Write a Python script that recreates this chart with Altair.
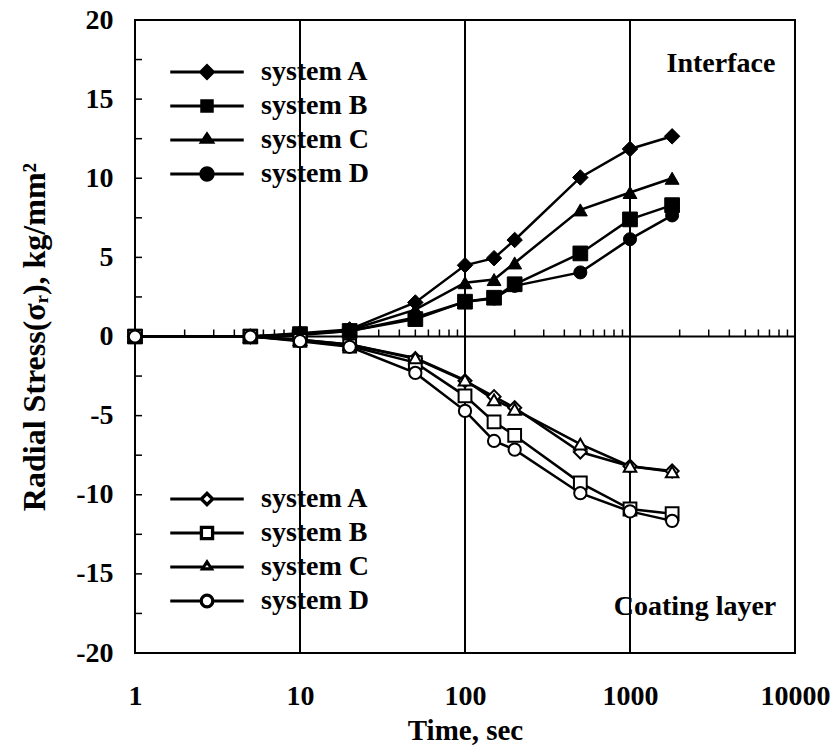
import altair as alt
import pandas as pd

FONT = "Liberation Serif"

times = [1, 5, 10, 20, 50, 100, 150, 200, 500, 1000, 1800]
systems = ["system A", "system B", "system C", "system D"]

interface_A = [0, 0, 0.2, 0.45, 2.15, 4.5, 4.95, 6.1, 10.05, 11.85, 12.65]
interface_B = [0, 0, 0.15, 0.35, 1.1, 2.2, 2.45, 3.3, 5.25, 7.4, 8.3]
interface_C = [0, 0, 0.15, 0.4, 1.7, 3.4, 3.6, 4.65, 8.0, 9.1, 10.0]
interface_D = [0, 0, 0.1, 0.35, 1.2, 2.2, 2.4, 3.2, 4.05, 6.15, 7.65]

coating_A = [0, 0, -0.2, -0.5, -1.4, -2.8, -3.8, -4.5, -7.3, -8.2, -8.5]
coating_B = [0, 0, -0.25, -0.6, -1.65, -3.75, -5.4, -6.25, -9.25, -10.9, -11.2]
coating_C = [0, 0, -0.2, -0.5, -1.35, -2.75, -4.0, -4.6, -6.8, -8.2, -8.55]
coating_D = [0, 0, -0.3, -0.65, -2.3, -4.7, -6.6, -7.15, -9.9, -11.05, -11.65]

x_labels = [1, 10, 100, 1000, 10000]
y_labels = [-20, -15, -10, -5, 0, 5, 10, 15, 20]
grid_x = [10, 100, 1000]
minor_x = [2, 3, 4, 5, 6, 7, 8, 9, 20, 30, 40, 50, 60, 70, 80, 90,
           200, 300, 400, 500, 600, 700, 800, 900,
           2000, 3000, 4000, 5000, 6000, 7000, 8000, 9000]
minor_y = [-17.5, -15, -12.5, -10, -7.5, -5, -2.5, 2.5, 5, 7.5, 10, 12.5, 15, 17.5]

notes = ["Interface", "Coating layer"]
note_x = [7600, 7700]
note_y = [17.2, -17.1]

rows = []
for layer, sets in [("Interface", [interface_A, interface_B, interface_C, interface_D]),
                    ("Coating", [coating_A, coating_B, coating_C, coating_D])]:
    for name, vals in zip(systems, sets):
        for t, v in zip(times, vals):
            rows.append({"time": t, "stress": v, "system": name, "layer": layer})
df = pd.DataFrame(rows)
df_int = df[df.layer == "Interface"]
df_coat = df[df.layer == "Coating"]

x_scale = alt.Scale(type="log", domain=[1, 10000])
y_scale = alt.Scale(domain=[-20, 20])

x_axis = alt.Axis(values=x_labels, labelExpr="'' + datum.value", ticks=False, domain=False,
                  grid=False, labelFlush=False, labelOverlap=False, labelBound=False,
                  labelFont=FONT, labelFontSize=28, labelFontWeight="bold", labelColor="black",
                  labelPadding=29, title="Time, sec", titleFont=FONT, titleFontSize=29,
                  titleFontWeight="bold", titleColor="black", titlePadding=6)
y_axis = alt.Axis(values=y_labels, labelExpr="'' + datum.value", ticks=False, domain=False,
                  grid=False, labelFlush=False, labelOverlap=False,
                  labelFont=FONT, labelFontSize=28, labelFontWeight="bold", labelColor="black",
                  labelPadding=22, title="Radial Stress(σᵣ), kg/mm²", titleFont=FONT,
                  titleFontSize=32, titleFontWeight="bold", titleColor="black", titlePadding=24)


def X(field):
    return alt.X(field, scale=x_scale, axis=x_axis)


def Y(field):
    return alt.Y(field, scale=y_scale, axis=y_axis)


lines = alt.Chart(df).mark_line(color="black", strokeWidth=2.5).encode(
    x=X("time:Q"), y=Y("stress:Q"), detail=["system:N", "layer:N"],
)

grid = alt.Chart(pd.DataFrame({"gx": grid_x})).mark_rule(color="black", strokeWidth=2).encode(
    x=X("gx:Q")
)
zero = alt.Chart(pd.DataFrame({"z": [0]})).mark_rule(color="black", strokeWidth=2).encode(
    y=Y("z:Q")
)
xminor = alt.Chart(pd.DataFrame({"mx": minor_x, "z": 0})).mark_tick(
    orient="vertical", size=7, thickness=1.5, color="black", yOffset=-3.5, opacity=1
).encode(x=X("mx:Q"), y=Y("z:Q"))
yminor = alt.Chart(pd.DataFrame({"my": minor_y, "one": 1})).mark_tick(
    orient="horizontal", size=7, thickness=1.5, color="black", xOffset=3.5, opacity=1
).encode(x=X("one:Q"), y=Y("my:Q"))

pts_filled = alt.Chart(df_int).mark_point(
    filled=True, fill="black", stroke="black", strokeWidth=1, opacity=1
).encode(
    x=X("time:Q"), y=Y("stress:Q"),
    shape=alt.Shape("system:N", scale=alt.Scale(domain=systems,
                    range=["diamond", "square", "triangle-up", "circle"]), legend=None),
    size=alt.Size("system:N", scale=alt.Scale(domain=systems, range=[240, 170, 210, 200]),
                  legend=None),
)
pts_open = alt.Chart(df_coat).mark_point(
    filled=True, fill="white", stroke="black", strokeWidth=2, opacity=1
).encode(
    x=X("time:Q"), y=Y("stress:Q"),
    shape=alt.Shape("system:N", scale=alt.Scale(domain=systems,
                    range=["diamond", "square", "triangle-up", "circle"]), legend=None),
    size=alt.Size("system:N", scale=alt.Scale(domain=systems, range=[170, 150, 180, 170]),
                  legend=None),
)

# legend symbols drawn as filled outlines: line segments + marker (12 px per unit at size 576)
filled_paths = [
    "M-3,-0.065H-0.5V0.065H-3Z M0.5,-0.065H3V0.065H0.5Z M0,-0.62L0.62,0L0,0.62L-0.62,0Z",
    "M-3,-0.065H-0.45V0.065H-3Z M0.45,-0.065H3V0.065H0.45Z M-0.5,-0.5H0.5V0.5H-0.5Z",
    "M-3,-0.065H-0.35V0.065H-3Z M0.35,-0.065H3V0.065H0.35Z M0,-0.62L0.58,0.25H-0.58Z",
    "M-3,-0.065H-0.5V0.065H-3Z M0.5,-0.065H3V0.065H0.5Z "
    "M-0.58,0A0.58,0.58,0,1,1,0.58,0A0.58,0.58,0,1,1,-0.58,0Z",
]
open_paths = [
    "M-3,-0.065H-0.58V0.065H-3Z M0.58,-0.065H3V0.065H0.58Z "
    "M0,-0.58L0.58,0L0,0.58L-0.58,0Z M0,-0.36L-0.36,0L0,0.36L0.36,0Z",
    "M-3,-0.065H-0.54V0.065H-3Z M0.54,-0.065H3V0.065H0.54Z "
    "M-0.54,-0.54H0.54V0.54H-0.54Z M-0.39,-0.39V0.39H0.39V-0.39Z",
    "M-3,-0.065H-0.36V0.065H-3Z M0.36,-0.065H3V0.065H0.36Z "
    "M0,-0.55L0.5,0.22H-0.5Z M0,-0.27L-0.29,0.075H0.29Z",
    "M-3,-0.065H-0.56V0.065H-3Z M0.56,-0.065H3V0.065H0.56Z "
    "M-0.56,0A0.56,0.56,0,1,1,0.56,0A0.56,0.56,0,1,1,-0.56,0Z "
    "M-0.41,0A0.41,0.41,0,1,0,0.41,0A0.41,0.41,0,1,0,-0.41,0Z",
]


def legend_layer(paths, ly):
    return alt.Chart(pd.DataFrame({"system": systems})).transform_filter("false").mark_point(
        filled=False, fill="black", stroke="black", strokeWidth=0, size=576, opacity=1
    ).encode(
        x=X("time:Q"), y=Y("stress:Q"),
        shape=alt.Shape("system:N", scale=alt.Scale(domain=systems, range=paths),
                        legend=alt.Legend(orient="none", legendX=58, legendY=ly, title=None,
                                          labelFont=FONT, labelFontSize=28,
                                          labelFontWeight="bold", labelColor="black",
                                          labelOffset=40, rowPadding=6, symbolSize=576,
                                          symbolFillColor="black", symbolOpacity=1,
                                          padding=0)),
    )


leg_filled = legend_layer(filled_paths, 38)
leg_open = legend_layer(open_paths, 465)

text = alt.Chart(pd.DataFrame({"t": notes, "nx": note_x, "ny": note_y})).mark_text(
    align="right", baseline="middle", font=FONT, fontSize=28, fontWeight="bold", color="black"
).encode(x=X("nx:Q"), y=Y("ny:Q"), text="t:N")

chart = alt.layer(
    lines, grid, zero, xminor, yminor, pts_filled, pts_open, leg_filled, leg_open, text
).resolve_scale(shape="independent", size="independent").properties(
    width=660, height=633, background="white",
    padding={"left": 127, "top": 12, "right": 36, "bottom": 94},
    autosize=alt.AutoSizeParams(type="none"),
).configure_view(stroke="black", strokeWidth=2).configure_axis(
    labelFont=FONT, titleFont=FONT
)

chart.save("out.html", embed_options={"renderer": "svg", "actions": False})
